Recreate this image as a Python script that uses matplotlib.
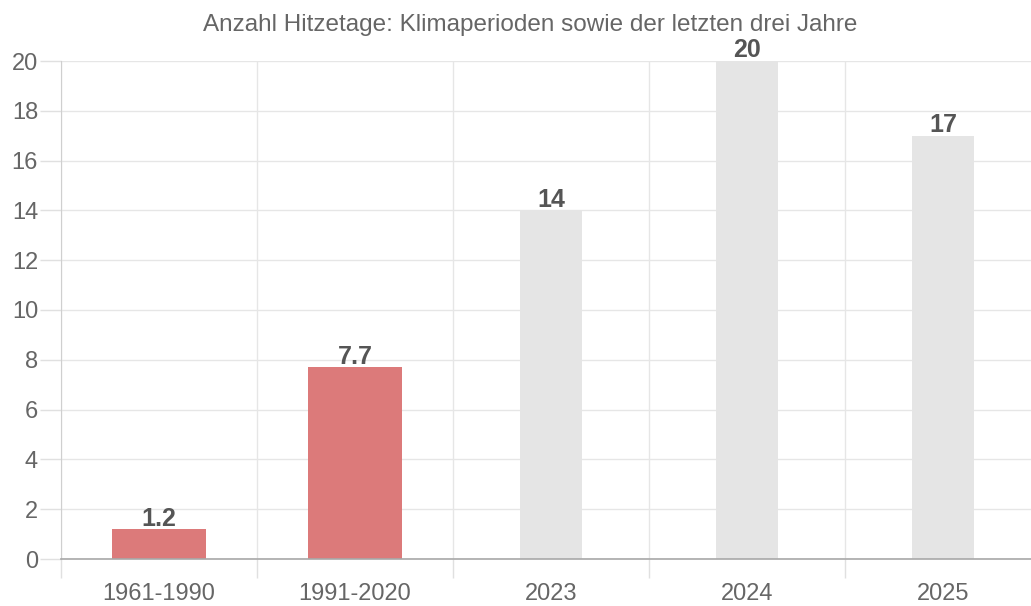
import matplotlib
matplotlib.use("Agg")
import matplotlib.pyplot as plt
import numpy as np

categories = ["1961-1990", "1991-2020", "2023", "2024", "2025"]
values = [1.2, 7.7, 14, 20, 17]
labels = ["1.2", "7.7", "14", "20", "17"]
kinds = ["period", "period", "year", "year", "year"]
title = "Anzahl Hitzetage: Klimaperioden sowie der letzten drei Jahre"
yticks = [0, 2, 4, 6, 8, 10, 12, 14, 16, 18, 20]

plt.rcParams['font.family'] = ['Liberation Sans', 'DejaVu Sans']

W, H = 1031, 606
fig = plt.figure(figsize=(W/100, H/100), dpi=100)
left, right, top, bottom = 61, 1041, 61, 559
ax = fig.add_axes([left/W, (H-bottom)/H, (right-left)/W, (bottom-top)/H])

colors = {"period": "#dc7a7a", "year": "#e5e5e5"}
widths = {"period": 0.48, "year": 0.32}
x = np.arange(len(categories))
for i, (v, k) in enumerate(zip(values, kinds)):
    ax.bar(x[i], v, width=widths[k], color=colors[k], zorder=2)
    ax.annotate(labels[i], (x[i], v), xytext=(0, -1), textcoords="offset points",
                ha="center", va="bottom", fontsize=18, fontweight="bold", color="#555555",
                zorder=4, annotation_clip=False)

ax.set_xlim(-0.5, len(categories) - 0.5)
ax.set_ylim(0, 20)

ax.set_xticks(np.arange(len(categories) + 1) - 0.5)
ax.set_xticklabels([])
ax.set_xticks(x, minor=True)
ax.set_xticklabels(categories, minor=True)
ax.tick_params(axis="x", which="major", length=14, color="#e0e0e0", width=1)
ax.tick_params(axis="x", which="minor", length=0, pad=17, labelsize=17, labelcolor="#666666")
ax.set_yticks(yticks)
ax.set_yticklabels([str(t) for t in yticks])
ax.tick_params(axis="y", length=15, color="#e0e0e0", width=1, pad=1.5, labelsize=17, labelcolor="#666666")

ax.grid(True, which="major", color="#e6e6e6", linewidth=1, zorder=0)
ax.set_axisbelow(True)
for s in ["top", "right"]:
    ax.spines[s].set_visible(False)
ax.spines["left"].set_color("#cfcfcf")
ax.spines["bottom"].set_color("#a8a8a8")
ax.spines["bottom"].set_linewidth(1.2)

fig.text(530/W, 1 - 25/H, title, ha="center", va="center", fontsize=17.5, color="#666666")

fig.savefig("out.png", dpi=100)
